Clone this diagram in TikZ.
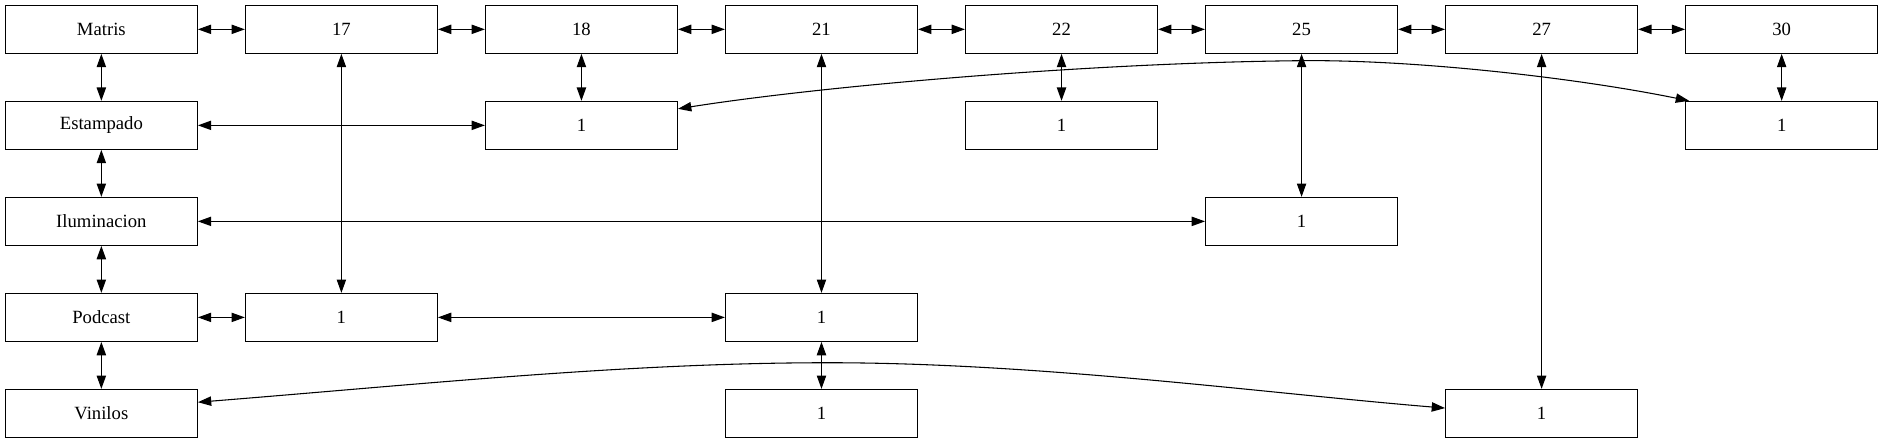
\documentclass[tikz,border=0pt]{standalone}
\usepackage{fontspec}
\setmainfont{Liberation Serif}
\usepackage{tikz}
\usetikzlibrary{arrows.meta}
\tikzstyle{arrow} = [{Triangle[length=10pt,width=7pt]}-{Triangle[length=10pt,width=7pt]}]
\tikzstyle{box} = [draw, minimum width=144pt, minimum height=36pt, inner sep=0pt, font=\fontsize{14}{17}\selectfont]

\begin{document}
\begin{tikzpicture}[node distance=72pt, line width=0.8pt, every node/.style={box}]
		\useasboundingbox (0,0) rectangle (1412pt,-332pt);

		% top row
		\node (matris) at (76pt,-22pt) {Matris};
		\node (n17) [right of=matris, xshift=108pt] {17};
		\node (n18) [right of=n17, xshift=108pt] {18};
		\node (n21) [right of=n18, xshift=108pt] {21};
		\node (n22) [right of=n21, xshift=108pt] {22};
		\node (n25) [right of=n22, xshift=108pt] {25};
		\node (n27) [right of=n25, xshift=108pt] {27};
		\node (n30) [right of=n27, xshift=108pt] {30};

		% left column
		\node (estampado) [below of=matris] {Estampado};
		\node (iluminacion) [below of=estampado] {Iluminacion};
		\node (podcast) [below of=iluminacion] {Podcast};
		\node (vinilos) [below of=podcast] {Vinilos};

		% counts
		\node (est18) [below of=n18] {1};
		\node (est22) [below of=n22] {1};
		\node (est30) [below of=n30] {1};
		\node (ilu25) [below of=n25, yshift=-72pt] {1};
		\node (pod17) [right of=podcast, xshift=108pt] {1};
		\node (pod21) [right of=pod17, xshift=288pt] {1};
		\node (vin21) [below of=pod21] {1};
		\node (vin27) [right of=vin21, xshift=468pt] {1};

		\draw [arrow] (matris) -- (n17);
		\draw [arrow] (n17) -- (n18);
		\draw [arrow] (n18) -- (n21);
		\draw [arrow] (n21) -- (n22);
		\draw [arrow] (n22) -- (n25);
		\draw [arrow] (n25) -- (n27);
		\draw [arrow] (n27) -- (n30);

		\draw [arrow] (matris) -- (estampado);
		\draw [arrow] (estampado) -- (iluminacion);
		\draw [arrow] (iluminacion) -- (podcast);
		\draw [arrow] (podcast) -- (vinilos);

		\draw [arrow] (n18) -- (est18);
		\draw [arrow] (n22) -- (est22);
		\draw [arrow] (n30) -- (est30);
		\draw [arrow] (n25) -- (ilu25);
		\draw [arrow] (n17) -- (pod17);
		\draw [arrow] (n21) -- (pod21);
		\draw [arrow] (n27) -- (vin27);
		\draw [arrow] (pod21) -- (vin21);

		\draw [arrow] (estampado) -- (est18);
		\draw [arrow] (iluminacion) -- (ilu25);
		\draw [arrow] (podcast) -- (pod17);
		\draw [arrow] (pod17) -- (pod21);

		\draw [arrow] ([yshift=-6pt]est18.north east) .. controls (620pt,-64pt) and (820pt,-47pt) .. (976pt,-45.5pt)
			.. controls (1060pt,-44.7pt) and (1180pt,-58pt) .. ([xshift=3pt]est30.north west);
		\draw [arrow] ([yshift=-10pt]vinilos.north east) .. controls (318pt,-288pt) and (470pt,-272pt) .. (621pt,-272pt)
			.. controls (780pt,-272pt) and (950pt,-295pt) .. ([yshift=4pt]vin27.west);
	\end{tikzpicture}
\end{document}
